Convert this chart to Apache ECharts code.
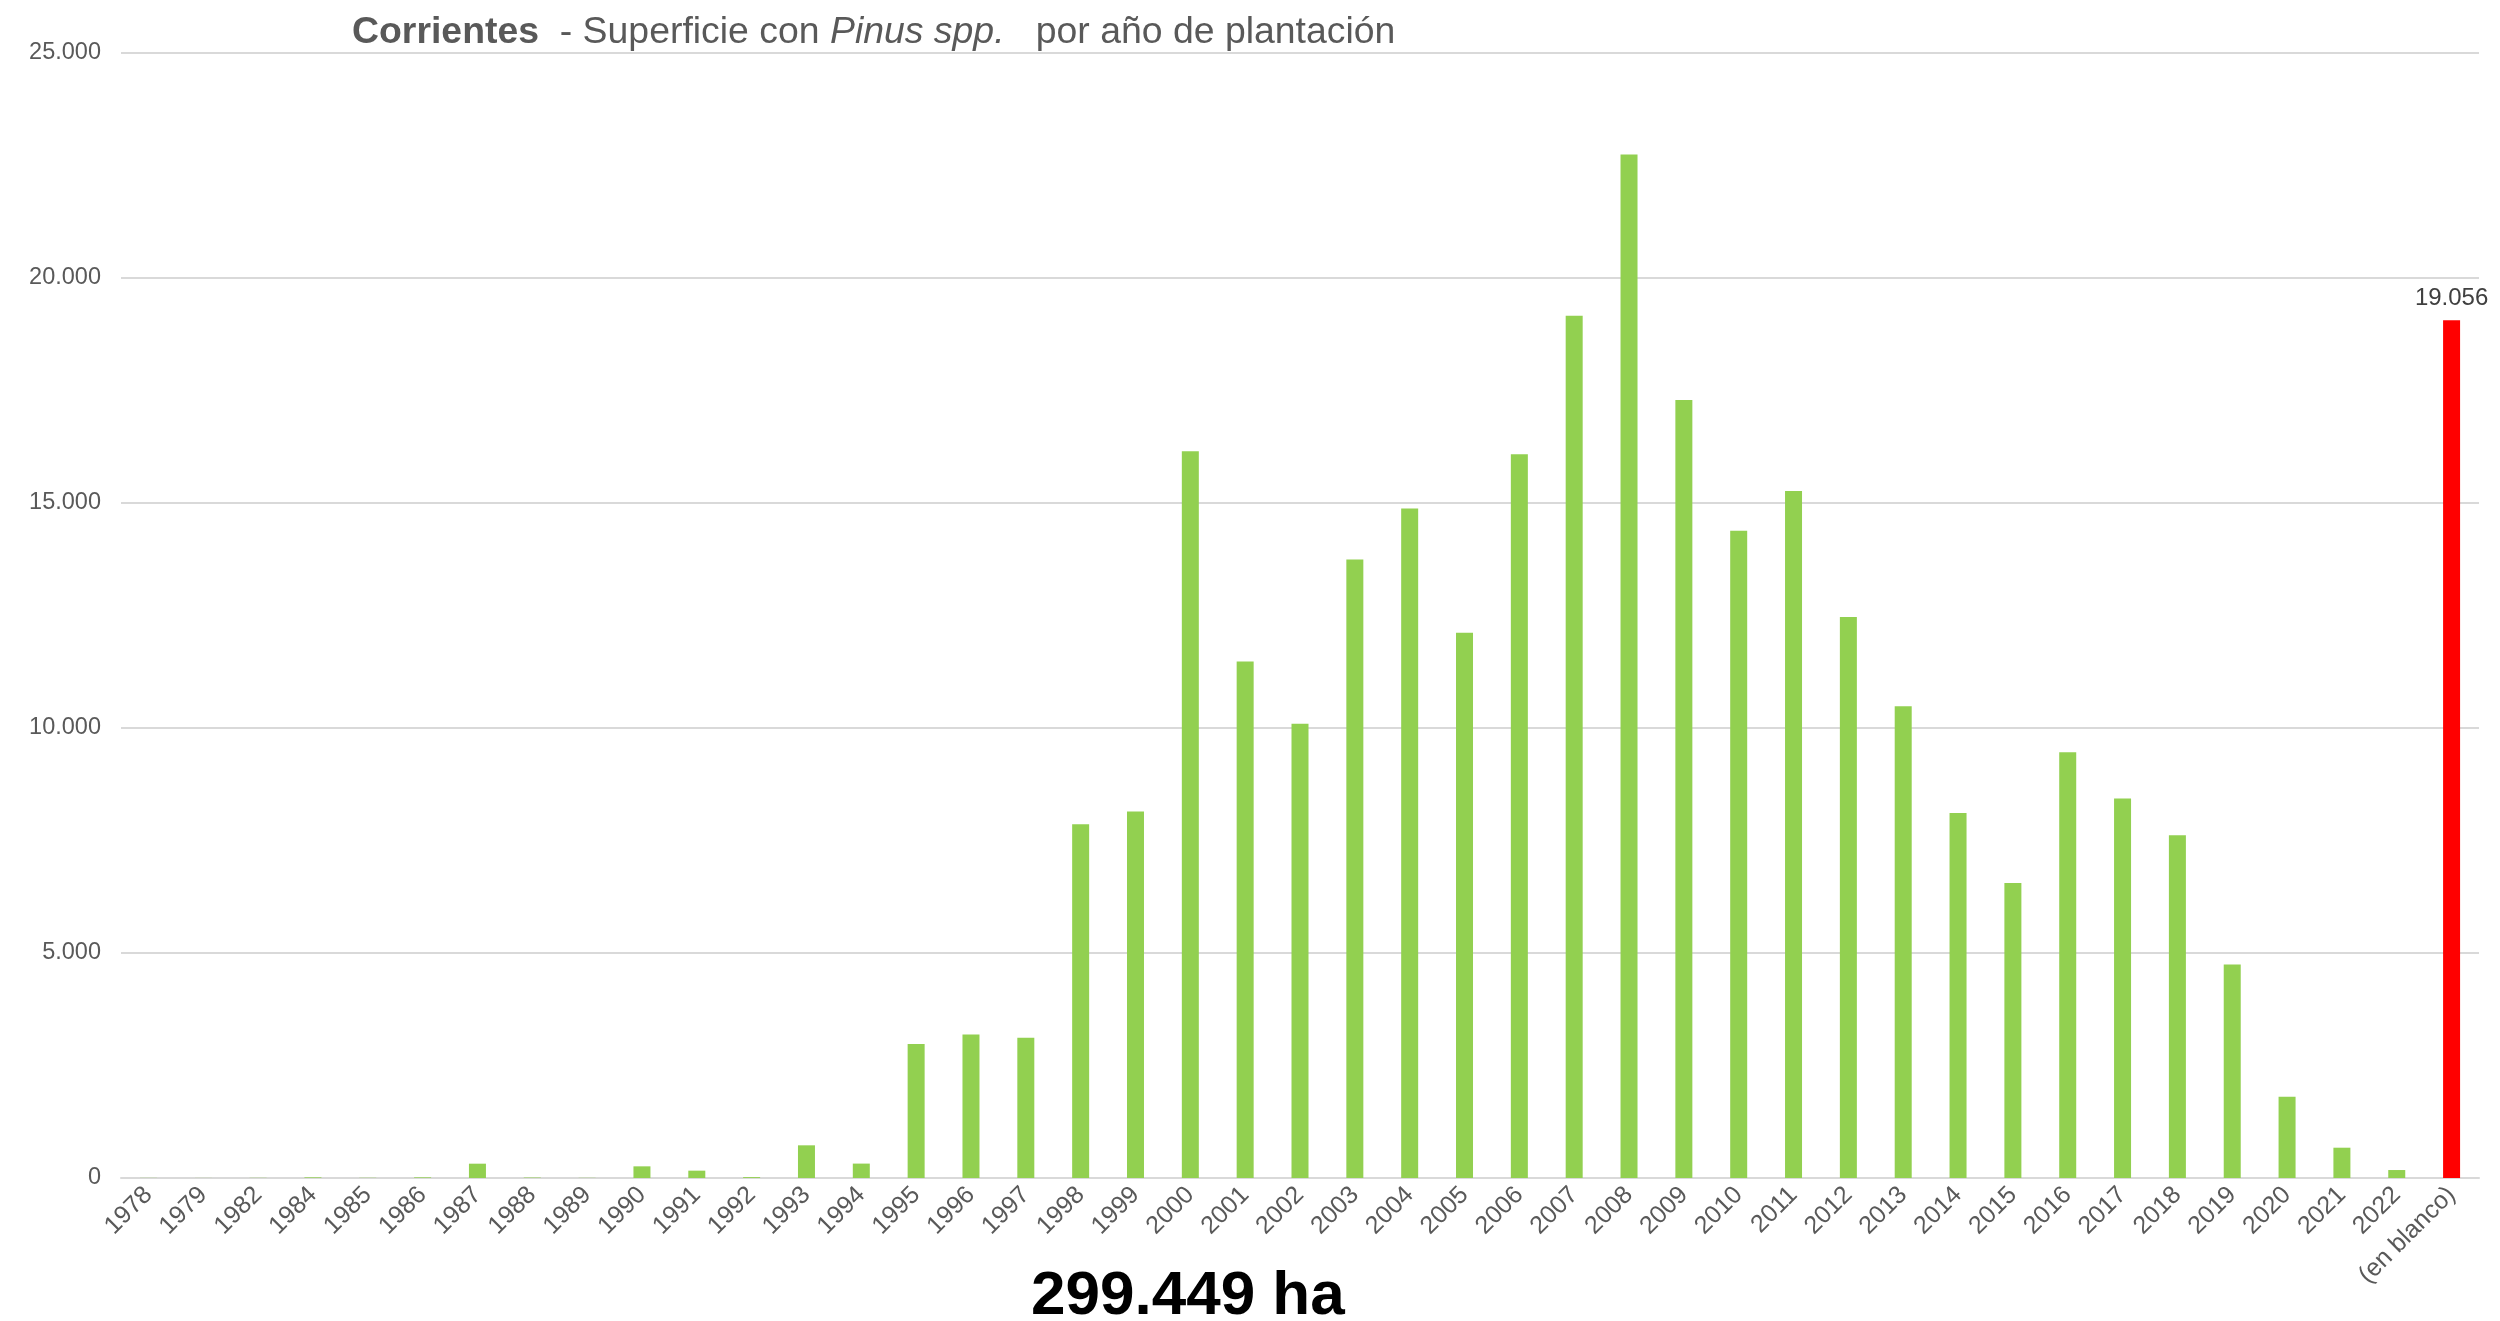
<!DOCTYPE html>
<html>
<head>
<meta charset="utf-8">
<script src="https://cdn.jsdelivr.net/npm/echarts@6/dist/echarts.min.js"></script>
<style>
html,body{margin:0;padding:0;background:#fff;}
#chart{width:2500px;height:1321px;}
</style>
</head>
<body>
<div id="chart"></div>
<script>
const categories = ['1978','1979','1982','1984','1985','1986','1987','1988','1989','1990','1991','1992','1993','1994','1995','1996','1997','1998','1999','2000','2001','2002','2003','2004','2005','2006','2007','2008','2009','2010','2011','2012','2013','2014','2015','2016','2017','2018','2019','2020','2021','2022','(en blanco)'];
const values = [3,2,4,15,5,15,318,10,4,259,163,20,726,320,2975,3187,3116,7861,8144,16147,11473,10092,13739,14873,12110,16076,19157,22734,17280,14377,15262,12465,10482,8109,6551,9455,8428,7613,4745,1806,673,177,19056];
const yTicks = [0,5000,10000,15000,20000,25000];
const totalLabel = '299.449 ha';

const fmt = v => String(v).replace(/\B(?=(\d{3})+(?!\d))/g, '.');
const lastIdx = categories.length - 1;

const chart = echarts.init(document.getElementById('chart'));
chart.setOption({
  animation: false,
  backgroundColor: '#ffffff',
  textStyle: { fontFamily: 'Liberation Sans, Arial, sans-serif' },
  title: {
    text: '{b|Corrientes}{n|  - Superficie con }{i|Pinus spp.}{n|   por año de plantación}',
    left: 347, top: 9,
    textStyle: {
      fontWeight: 'normal',
      rich: {
        b: { fontSize: 37.4, fontWeight: 'bold', color: '#595959', fontFamily: 'Liberation Sans' },
        n: { fontSize: 37.4, fontWeight: 'normal', color: '#595959', fontFamily: 'Liberation Sans' },
        i: { fontSize: 37.4, fontWeight: 'normal', fontStyle: 'italic', color: '#595959', fontFamily: 'Liberation Sans' }
      }
    }
  },
  graphic: [{
    type: 'text', left: 1031, top: 1266,
    style: { text: totalLabel, font: 'bold 62px "Liberation Sans", Arial', fill: '#000000' }
  }],
  grid: { left: 121, right: 21, top: 52.6, bottom: 143, containLabel: false },
  xAxis: {
    type: 'category', data: categories,
    axisLine: { lineStyle: { color: '#d9d9d9', width: 2 } },
    axisTick: { show: false },
    axisLabel: { rotate: 45, fontSize: 25, color: '#595959', margin: 13, interval: 0 }
  },
  yAxis: {
    type: 'value', min: yTicks[0], max: yTicks[yTicks.length-1], interval: yTicks[1]-yTicks[0],
    axisLine: { show: false }, axisTick: { show: false },
    splitLine: { lineStyle: { color: '#d9d9d9', width: 2 } },
    axisLabel: { fontSize: 23.5, color: '#595959', margin: 20, formatter: v => fmt(v) }
  },
  series: [{
    type: 'bar', barWidth: 17,
    data: values.map((v, i) => i === lastIdx ? {
      value: v,
      itemStyle: { color: '#ff0000' },
      label: { show: true, position: 'top', fontSize: 24, color: '#404040', distance: 10, formatter: p => fmt(p.value) }
    } : { value: v, itemStyle: { color: '#92d050' } })
  }]
});
</script>
</body>
</html>
